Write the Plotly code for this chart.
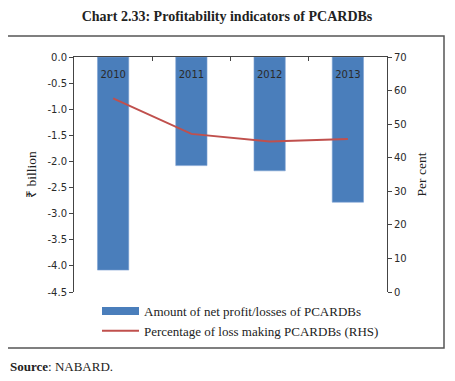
import plotly.graph_objects as go

years = ["2010", "2011", "2012", "2013"]
net_profit = [-4.08, -2.08, -2.18, -2.78]
pct_loss = [57.7, 47.1, 44.8, 45.6]
left_ticks = [0.0, -0.5, -1.0, -1.5, -2.0, -2.5, -3.0, -3.5, -4.0, -4.5]
left_tick_text = ["0.0", "-0.5", "-1.0", "-1.5", "-2.0", "-2.5", "-3.0", "-3.5", "-4.0", "-4.5"]

# page offset from default body margin
O = 8
W, H = 455 - 2 * O, 381 - 2 * O
L, R, T, B = 74 - O, 387 - O, 57 - O, 292 - O
def px(x): return (x - O - L) / (R - L)
def py(y): return (B - (y - O)) / (B - T)

fig = go.Figure()
fig.add_trace(go.Bar(x=years, y=net_profit, width=0.4,
                     marker=dict(color="#4a7ebb", line=dict(color="#7fa3d4", width=0.6)),
                     name="Amount of net profit/losses of PCARDBs", showlegend=False))
fig.add_trace(go.Scatter(x=[None], y=[None], mode="lines",
                         line=dict(color="#4a7ebb", width=8),
                         name="Amount of net profit/losses of PCARDBs"))
fig.add_trace(go.Scatter(x=years, y=pct_loss, mode="lines", xaxis="x2", yaxis="y2",
                         line=dict(color="#c0504d", width=2),
                         name="Percentage of loss making PCARDBs (RHS)"))

tickfont = dict(family="DejaVu Sans", size=10, color="#2a2a2a")
serif = "Liberation Serif"
fig.update_layout(
    width=W, height=H, margin=dict(l=L, r=W - R, t=T, b=H - B),
    paper_bgcolor="white", plot_bgcolor="white",
    title=dict(text="<b>Chart 2.33: Profitability indicators of PCARDBs</b>",
               x=px(227), xref="paper", xanchor="center", y=1 - (16 - O) / H, yanchor="middle",
               font=dict(family=serif, size=14, color="#222")),
    xaxis=dict(side="top", showticklabels=False, tickson="boundaries",
               ticks="inside", ticklen=4, tickcolor="#444", range=[-0.5, 3.5],
               showline=True, linecolor="#444", linewidth=1, showgrid=False,
               automargin=False),
    xaxis2=dict(overlaying="x", anchor="free", position=py(67), side="bottom",
                range=[-0.5, 3.5], showline=False, ticks="", showgrid=False,
                tickfont=tickfont, automargin=False),
    yaxis=dict(range=[-4.5, 0], tickvals=left_ticks, ticktext=left_tick_text,
               ticks="outside", ticklen=4, tickcolor="#444", showline=True, linecolor="#444",
               showgrid=False, zeroline=False, tickfont=tickfont, automargin=False,
               title=dict(text="₹ billion", font=dict(family=serif, size=13.5, color="#222"),
                          standoff=7)),
    yaxis2=dict(range=[0, 70], dtick=10, overlaying="y", side="right",
                ticks="outside", ticklen=4, tickcolor="#444", showline=True,
                linecolor="#444", showgrid=False, zeroline=False, tickfont=tickfont,
                automargin=False,
                title=dict(text="Per cent", font=dict(family=serif, size=13.5, color="#222"),
                           standoff=10)),
    legend=dict(x=px(97), y=py(296), xanchor="left", yanchor="top",
                font=dict(family=serif, size=13, color="#222"),
                itemwidth=37, tracegroupgap=0, bgcolor="rgba(0,0,0,0)"),
    shapes=[dict(type="rect", xref="paper", yref="paper",
                 x0=px(7), x1=px(444), y0=py(348), y1=py(36),
                 line=dict(color="#555", width=1.5))],
    annotations=[dict(text="<b>Source</b>: NABARD.", xref="paper", yref="paper",
                      x=px(8), y=py(366), xanchor="left", yanchor="middle",
                      showarrow=False, font=dict(family=serif, size=13, color="#222"))],
)
fig.write_html("out.html")
